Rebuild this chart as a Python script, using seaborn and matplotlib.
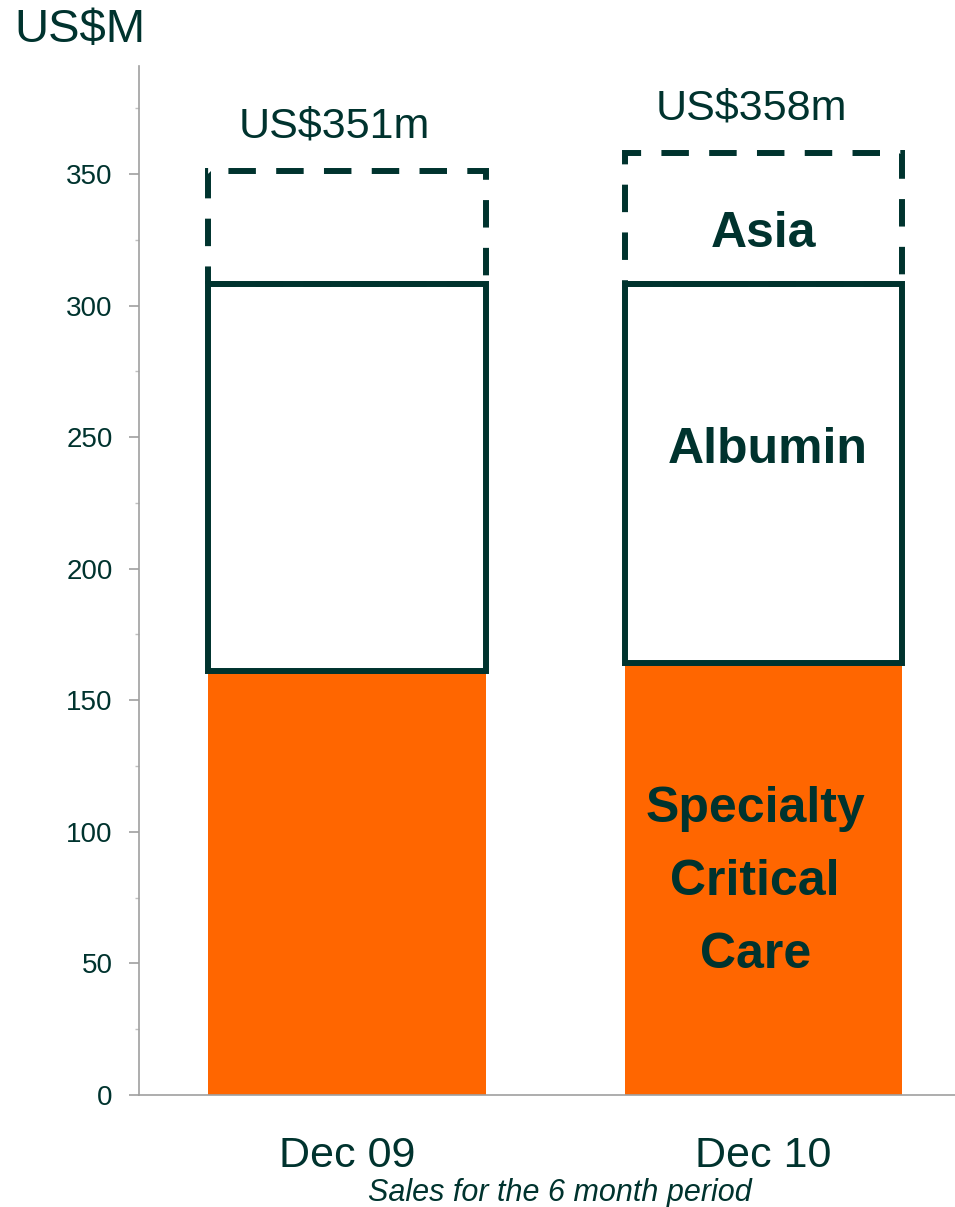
import numpy as np
import pandas as pd
import matplotlib
matplotlib.use('Agg')
import matplotlib.pyplot as plt
import seaborn as sns
from matplotlib.ticker import MultipleLocator

# Sales for the 6 month period, US$M
periods = ['Dec 09', 'Dec 10']
specialty = [161, 164]
albumin = [147, 144]
asia = [43, 50]
totals = ['US$351m', 'US$358m']

dark = '#00332e'
orange = '#ff6600'

sns.set_style('white')
plt.rcParams['font.family'] = ['Liberation Sans', 'DejaVu Sans']

df = pd.DataFrame({'period': periods, 'scc': specialty, 'alb': albumin, 'asia': asia})
df['alb_base'] = df['scc']
df['asia_base'] = df['scc'] + df['alb']
df['total'] = df['asia_base'] + df['asia']

fig = plt.figure(figsize=(9.55, 12.07), dpi=100)
ax = fig.add_axes([0.1455, 0.0928, 0.8545, 0.8525])

# stacked segments
sns.barplot(data=df, x='period', y='scc', color=orange, saturation=1, width=0.666,
            edgecolor='none', linewidth=0, ax=ax)
sns.barplot(data=df, x='period', y='alb', bottom=df['alb_base'].values, width=0.666,
            color='white', saturation=1, facecolor='white', edgecolor=dark,
            linewidth=4.3, ax=ax)
sns.barplot(data=df, x='period', y='asia', bottom=df['asia_base'].values, width=0.666,
            color='white', saturation=1, facecolor='none', edgecolor=dark,
            linewidth=4.3, linestyle=(0, (4.6, 3.4)), ax=ax)

ax.set_xlim(-0.5, 1.46)
ax.set_ylim(0, 391)
ax.yaxis.set_major_locator(MultipleLocator(50))
ax.yaxis.set_minor_locator(MultipleLocator(25))
ax.set_xlabel('')
ax.set_ylabel('')

for s in ['top', 'right']:
    ax.spines[s].set_visible(False)
for s in ['left', 'bottom']:
    ax.spines[s].set_color('#a0a0a0')
    ax.spines[s].set_linewidth(1.2)

ax.tick_params(axis='y', which='major', left=True, length=7, width=1.2,
               color='#a0a0a0', labelsize=20, labelcolor=dark, pad=12)
ax.tick_params(axis='y', which='minor', left=True, length=3, width=1,
               color='#c0c0c0')
ax.tick_params(axis='x', bottom=False, labelsize=31, labelcolor=dark, pad=26)
for lbl in ax.get_xticklabels():
    lbl.set_x(lbl.get_position()[0])

# total labels above bars
for i, row in df.iterrows():
    ax.text(i - 0.03, row['total'] + 17, totals[i], ha='center', va='center',
            fontsize=31, color=dark)

# segment labels on the Dec 10 bar
ax.text(1, df['asia_base'][1] + 19, 'Asia', ha='center', va='center',
        fontsize=36, fontweight='bold', color=dark)
ax.text(1.01, 245, 'Albumin', ha='center', va='center',
        fontsize=36, fontweight='bold', color=dark)
ax.text(0.98, 81, 'Specialty\nCritical\nCare', ha='center', va='center',
        fontsize=36, fontweight='bold', color=dark, linespacing=1.75)

fig.text(0.015, 0.975, 'US$M', ha='left', va='center', fontsize=34, color=dark)
fig.text(0.586, 0.012, 'Sales for the 6 month period', ha='center', va='center',
         fontsize=22, style='italic', color=dark)

fig.savefig('out.png', dpi=100)
